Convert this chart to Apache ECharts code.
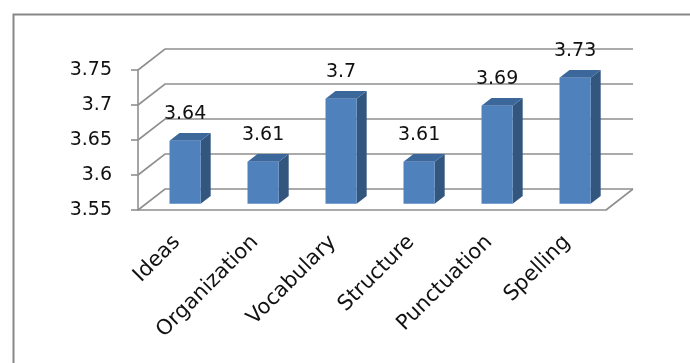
<!DOCTYPE html>
<html>
<head>
<meta charset="utf-8">
<script src="https://cdn.jsdelivr.net/npm/echarts@6/dist/echarts.min.js"></script>
<style>
  html, body { margin: 0; padding: 0; background: #fff; }
  #chart { width: 690px; height: 363px; }
</style>
</head>
<body>
<div id="chart"></div>
<script>
// Mean scores per writing criterion
const categories = ['Ideas', 'Organization', 'Vocabulary', 'Structure', 'Punctuation', 'Spelling'];
const scores = [3.64, 3.61, 3.7, 3.61, 3.69, 3.73];
const yTicks = [3.55, 3.6, 3.65, 3.7, 3.75];

// Oblique depth of the box (pixels to the right / upwards)
const DX = 27, DY = 21;
const FRONT = 0.3, DEPTH = 0.37, BAR_W = 0.4;
const FONT = 'DejaVu Sans';
const LINE = '#8f8f8f';

const chart = echarts.init(document.getElementById('chart'));

function renderWall(params, api) {
  const cs = params.coordSys;
  const v = api.value(1);
  const y = api.coord([0, v])[1];
  const children = [{
    type: 'polyline',
    shape: { points: [[cs.x, y], [cs.x + DX, y - DY], [cs.x + cs.width + DX, y - DY]] },
    style: { stroke: LINE, lineWidth: 1.6, fill: null }
  }];
  if (v === yTicks[0]) {
    children.push({
      type: 'line',
      shape: { x1: cs.x + cs.width, y1: y, x2: cs.x + cs.width + DX, y2: y - DY },
      style: { stroke: LINE, lineWidth: 1.6 }
    });
  }
  return { type: 'group', children };
}

function renderBar(params, api) {
  const i = api.value(0), v = api.value(1);
  const base = api.coord([i, yTicks[0]]);
  const top = api.coord([i, v]);
  const band = api.size([1, 0])[0];
  const w = band * BAR_W;
  const fx = FRONT * DX, fy = FRONT * DY;
  const dx = DEPTH * DX, dy = DEPTH * DY;
  const xl = base[0] - w / 2 + fx, xr = xl + w;
  const yt = top[1] - fy, yb = base[1] - fy;
  return {
    type: 'group',
    children: [
      { type: 'polygon', shape: { points: [[xr, yt], [xr + dx, yt - dy], [xr + dx, yb - dy], [xr, yb]] },
        style: { fill: '#33567f' } },
      { type: 'polygon', shape: { points: [[xl, yt], [xl + dx, yt - dy], [xr + dx, yt - dy], [xr, yt]] },
        style: { fill: '#3c679b' } },
      { type: 'rect', shape: { x: xl, y: yt, width: w, height: yb - yt },
        style: { fill: '#4f81bd' } },
      { type: 'text', x: (xl + xr) / 2, y: yt - dy - 19,
        style: { text: String(v), fill: '#111', font: '19px "' + FONT + '"', align: 'center', verticalAlign: 'middle' } }
    ]
  };
}

chart.setOption({
  animation: false,
  backgroundColor: '#fff',
  graphic: [{
    type: 'rect', left: 11, top: 12,
    shape: { width: 800, height: 500 },
    style: { fill: null, stroke: '#888', lineWidth: 2 },
    z: -1
  }],
  grid: { left: 138, top: 70, width: 468, height: 140 },
  xAxis: {
    type: 'category',
    data: categories,
    axisLine: { lineStyle: { color: LINE, width: 1.6 } },
    axisTick: { length: 6, lineStyle: { color: LINE, width: 1.6 } },
    axisLabel: { rotate: 45, margin: 29, color: '#111', fontFamily: FONT, fontSize: 21 },
    splitLine: { show: false }
  },
  yAxis: {
    type: 'value',
    min: 3.55, max: 3.75, interval: 0.05,
    axisLine: { show: true, lineStyle: { color: LINE, width: 1.6 } },
    axisTick: { show: true, length: 7, lineStyle: { color: LINE, width: 1.6 } },
    axisLabel: { margin: 26, color: '#111', fontFamily: FONT, fontSize: 19 },
    splitLine: { show: false }
  },
  series: [
    { type: 'custom', renderItem: renderWall, data: yTicks.map(v => [0, v]), z: 1, silent: true },
    { type: 'custom', renderItem: renderBar, data: scores.map((v, i) => [i, v]), z: 2 }
  ]
});
</script>
</body>
</html>
